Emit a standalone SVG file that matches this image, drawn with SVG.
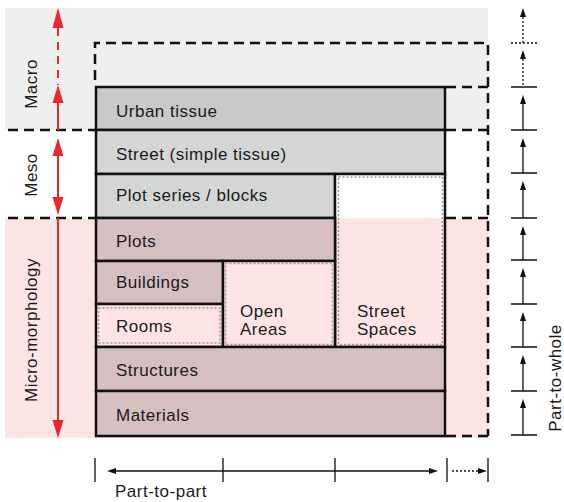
<svg xmlns="http://www.w3.org/2000/svg" width="564" height="502" viewBox="0 0 564 502">
  <defs>
    <style>
      text { font-family: "Liberation Sans", Arial, Helvetica, sans-serif; font-size: 17px; letter-spacing: 0.5px; fill: #1a1a1a; }
      .cell { stroke: #111; stroke-width: 2.5; }
      .grey1 { fill: #c9c9c9; }
      .grey2 { fill: #d4d6d6; }
      .mauve { fill: #d5c0c1; }
      .pale { fill: #fde5e5; }
      .inner { fill: none; stroke: #9a9a9a; stroke-width: 1.5; stroke-dasharray: 2 2; }
      .frame { fill: none; stroke: #111; stroke-width: 2.5; stroke-dasharray: 10 6; }
      .red { stroke: #e8282b; stroke-width: 2; fill: none; }
      .redhead { fill: #e8282b; }
      .tick { stroke: #111; stroke-width: 1.3; fill: none; }
      .dot { stroke: #111; stroke-width: 1.3; fill: none; stroke-dasharray: 2 2; }
      .head { fill: #111; }
    </style>
  </defs>

  <!-- scale bands -->
  <rect x="5" y="8" width="483" height="122" fill="#efefef"/>
  <rect x="5" y="218" width="483" height="220" fill="#fde5e5"/>

  <!-- outer dashed frame and band separators -->
  <g id="frame">
    <path class="frame" d="M95 80 V43 H488 V436"/>
    <path class="frame" d="M446 87 H488 M446 130 H488 M446 218 H488 M446 436 H488"/>
    <path class="frame" d="M8 130 H95 M8 218 H95"/>
  </g>

  <!-- hierarchy cells -->
  <g id="urban-tissue">
    <rect class="cell grey1" x="96" y="87" width="349" height="43"/>
    <text x="116" y="117">Urban tissue</text>
  </g>
  <g id="street">
    <rect class="cell grey2" x="96" y="130" width="349" height="44"/>
    <text x="116" y="160">Street (simple tissue)</text>
  </g>
  <g id="plot-series">
    <rect class="cell grey2" x="96" y="174" width="239" height="44"/>
    <text x="116" y="201">Plot series / blocks</text>
  </g>
  <g id="street-spaces">
    <rect x="335" y="174" width="110" height="44" fill="#ffffff"/>
    <rect class="pale" x="335" y="218" width="110" height="129"/>
    <rect class="cell" fill="none" x="335" y="174" width="110" height="173"/>
    <rect class="inner" x="338.5" y="177" width="104" height="167.5"/>
    <text x="357" y="317">Street</text>
    <text x="357" y="335">Spaces</text>
  </g>
  <g id="plots">
    <rect class="cell mauve" x="96" y="218" width="239" height="43"/>
    <text x="116" y="247">Plots</text>
  </g>
  <g id="buildings">
    <rect class="cell mauve" x="96" y="261" width="127" height="43"/>
    <text x="116" y="288">Buildings</text>
  </g>
  <g id="rooms">
    <rect class="cell pale" x="96" y="304" width="127" height="43"/>
    <rect class="inner" x="98.5" y="308" width="121.5" height="35"/>
    <text x="116" y="332">Rooms</text>
  </g>
  <g id="open-areas">
    <rect class="cell pale" x="223" y="261" width="112" height="86"/>
    <rect class="inner" x="225.5" y="263.5" width="107" height="81"/>
    <text x="240" y="317">Open</text>
    <text x="240" y="335">Areas</text>
  </g>
  <g id="structures">
    <rect class="cell mauve" x="96" y="347" width="349" height="44"/>
    <text x="116" y="376">Structures</text>
  </g>
  <g id="materials">
    <rect class="cell mauve" x="96" y="391" width="349" height="45"/>
    <text x="116" y="421">Materials</text>
  </g>

  <!-- scale labels -->
  <g id="labels">
    <text transform="translate(37,84) rotate(-90)" text-anchor="middle">Macro</text>
    <text transform="translate(37,175) rotate(-90)" text-anchor="middle">Meso</text>
    <text transform="translate(37,330) rotate(-90)" text-anchor="middle">Micro-morphology</text>
    <text transform="translate(561,378) rotate(-90)" text-anchor="middle">Part-to-whole</text>
    <text x="115" y="497">Part-to-part</text>
  </g>

  <g id="connectors">
    <!-- scale arrows -->
    <path class="red" d="M58 28 V85" stroke-dasharray="8 6"/>
    <path class="red" d="M58 103 V130"/>
    <path class="redhead" d="M58 8 L52.5 28 H63.5 Z"/>
    <path class="redhead" d="M58 85 L52.5 103 H63.5 Z"/>
    <path class="red" d="M58 156 V198"/>
    <path class="redhead" d="M58 138 L52.5 156 H63.5 Z"/>
    <path class="redhead" d="M58 215 L52.5 197 H63.5 Z"/>
    <path class="red" d="M58 218 V421"/>
    <path class="redhead" d="M58 438 L52.5 420 H63.5 Z"/>

    <!-- part-to-whole ladder -->
    <path class="dot" d="M511 43 H537"/>
    <path class="tick" d="M511 87 H537 M511 130 H537 M511 173 H537 M511 218 H537 M511 260 H537 M511 304 H537 M511 347 H537 M511 391 H537 M511 435 H537"/>
    <path class="dot" d="M523 17 V43 M523 59 V87"/>
    <path class="tick" d="M523 104 V130 M523 147 V173 M523 190 V218 M523 235 V260 M523 277 V304 M523 321 V347 M523 364 V391 M523 408 V435"/>
    <path class="head" d="M523 8 l-3 9 h6 Z M523 50 l-3 9 h6 Z M523 95 l-3 9 h6 Z M523 138 l-3 9 h6 Z M523 181 l-3 9 h6 Z M523 226 l-3 9 h6 Z M523 268 l-3 9 h6 Z M523 312 l-3 9 h6 Z M523 355 l-3 9 h6 Z M523 399 l-3 9 h6 Z"/>

    <!-- part-to-part ladder -->
    <path class="tick" d="M95 458 V482 M223 458 V482 M335 458 V482 M447 458 V482 M488 458 V482"/>
    <path class="tick" d="M116 471 H429"/>
    <path class="dot" d="M452 471 H478"/>
    <path class="head" d="M107 471 l9 -3 v6 Z M438 471 l-9 -3 v6 Z M487 471 l-9 -3 v6 Z"/>
  </g>
</svg>
